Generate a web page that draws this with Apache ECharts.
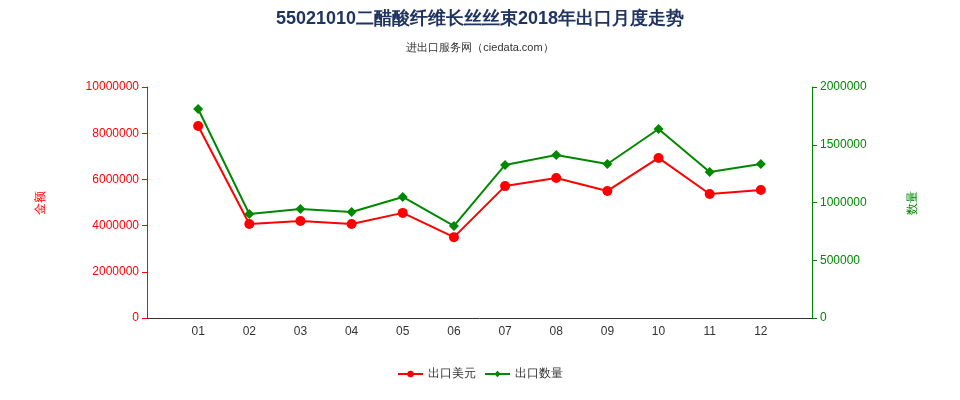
<!DOCTYPE html><html><head><meta charset="utf-8"><script src="https://cdn.jsdelivr.net/npm/echarts@6/dist/echarts.min.js"></script></head><body style="margin:0"><div id="c" style="width:960px;height:400px"></div><script>
const categories=["","01","02","03","04","05","06","07","08","09","10","11","12",""];
const usd=[null,8310000,4070000,4200000,4070000,4550000,3500000,5710000,6060000,5500000,6930000,5370000,5540000,null];
const qty=[null,1810000,900000,944000,918000,1048000,797000,1325000,1411000,1333000,1636000,1264000,1333000,null];
const c=echarts.init(document.getElementById('c'));
c.setOption({
title:{text:'55021010二醋酸纤维长丝丝束2018年出口月度走势',subtext:'进出口服务网（ciedata.com）',left:'center',top:5,itemGap:14,textStyle:{fontSize:18,fontWeight:'bold',color:'#1f3460'},subtextStyle:{fontSize:11,color:'#333'}},
grid:{left:147,right:148,top:87,bottom:82},
legend:{bottom:15,itemWidth:25,itemHeight:8,textStyle:{color:'#333'},data:['出口美元','出口数量']},
xAxis:{type:'category',data:categories,boundaryGap:false,axisTick:{show:false},axisLabel:{color:'#333'},axisLine:{lineStyle:{color:'#333'}}},
yAxis:[{type:'value',min:0,max:10000000,interval:2000000,name:'金额',nameLocation:'middle',nameGap:100,nameTextStyle:{color:'#f00'},axisLine:{show:true,lineStyle:{color:'#f00'}},axisTick:{show:true},axisLabel:{color:'#f00',formatter:v=>String(v)},splitLine:{show:false}},
{type:'value',min:0,max:2000000,interval:500000,name:'数量',nameLocation:'middle',nameGap:95,nameTextStyle:{color:'#080'},axisLine:{show:true,lineStyle:{color:'#080'}},axisTick:{show:true},axisLabel:{color:'#080',formatter:v=>String(v)},splitLine:{show:false}}],
series:[{name:'出口美元',type:'line',data:usd,color:'#f00',symbol:'circle',symbolSize:10,lineStyle:{width:2}},
{name:'出口数量',type:'line',yAxisIndex:1,data:qty,color:'#080',symbol:'diamond',symbolSize:10,lineStyle:{width:2}}]
});
</script></body></html>
